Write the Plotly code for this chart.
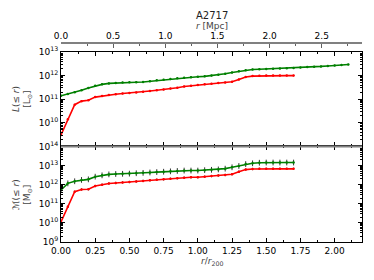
import plotly.graph_objects as go

# ---------------- data (r in units of r200, values as log10) ----------------
r_lum_green = [0.00, 0.05, 0.10, 0.15, 0.20, 0.25, 0.30, 0.35, 0.40, 0.45, 0.50,
               0.55, 0.60, 0.65, 0.70, 0.75, 0.80, 0.85, 0.90, 0.95, 1.00, 1.05,
               1.10, 1.15, 1.20, 1.25, 1.30, 1.35, 1.40, 1.45, 1.50, 1.55, 1.60,
               1.65, 1.70, 1.75, 1.80, 1.85, 1.90, 1.95, 2.00, 2.05, 2.10]
lum_green_log10 = [11.15, 11.22, 11.30, 11.38, 11.48, 11.57, 11.63, 11.67, 11.69, 11.71, 11.72,
                   11.72, 11.73, 11.76, 11.80, 11.83, 11.86, 11.89, 11.91, 11.93, 11.95, 11.97,
                   12.00, 12.04, 12.08, 12.13, 12.18, 12.23, 12.26, 12.27, 12.28, 12.29, 12.30,
                   12.31, 12.32, 12.34, 12.36, 12.37, 12.39, 12.41, 12.43, 12.45, 12.47]

r_lum_red = [0.00, 0.05, 0.10, 0.15, 0.20, 0.25, 0.30, 0.35, 0.40, 0.45, 0.50,
             0.55, 0.60, 0.65, 0.70, 0.75, 0.80, 0.85, 0.90, 0.95, 1.00, 1.05,
             1.10, 1.15, 1.20, 1.25, 1.30, 1.35, 1.40, 1.45, 1.50, 1.55, 1.60,
             1.65, 1.70]
lum_red_log10 = [9.49, 10.15, 10.77, 10.92, 10.96, 11.09, 11.14, 11.18, 11.21, 11.24, 11.26,
                 11.29, 11.32, 11.35, 11.38, 11.41, 11.45, 11.49, 11.54, 11.57, 11.60, 11.63,
                 11.66, 11.69, 11.71, 11.74, 11.84, 11.94, 11.98, 11.99, 12.00, 12.00, 12.00,
                 12.00, 12.00]

r_mass = [0.00, 0.05, 0.10, 0.15, 0.20, 0.25, 0.30, 0.35, 0.40, 0.45, 0.50,
          0.55, 0.60, 0.65, 0.70, 0.75, 0.80, 0.85, 0.90, 0.95, 1.00, 1.05,
          1.10, 1.15, 1.20, 1.25, 1.30, 1.35, 1.40, 1.45, 1.50, 1.55, 1.60,
          1.65, 1.70]
mass_green_log10 = [11.72, 12.07, 12.18, 12.25, 12.28, 12.42, 12.49, 12.54, 12.56, 12.57, 12.58,
                    12.60, 12.62, 12.64, 12.66, 12.68, 12.70, 12.72, 12.74, 12.74, 12.74, 12.76,
                    12.78, 12.80, 12.84, 12.91, 12.98, 13.08, 13.12, 13.15, 13.16, 13.16, 13.16,
                    13.16, 13.16]
mass_red_log10 = [10.05, 10.84, 11.63, 11.75, 11.76, 11.93, 12.00, 12.06, 12.09, 12.12, 12.14,
                  12.17, 12.20, 12.23, 12.26, 12.28, 12.31, 12.34, 12.37, 12.39, 12.39, 12.42,
                  12.45, 12.48, 12.51, 12.55, 12.68, 12.79, 12.82, 12.83, 12.83, 12.83, 12.83,
                  12.83, 12.83]

# error sizes in dex
err_lum_dex = 0.03
err_mass_green_dex = 0.15
err_mass_red_dex = 0.06

x_ticks_r200 = [0.00, 0.25, 0.50, 0.75, 1.00, 1.25, 1.50, 1.75, 2.00]
x_ticks_mpc = [0.0, 0.5, 1.0, 1.5, 2.0, 2.5]
y_top_exps = [10, 11, 12, 13]
y_bot_exps = [9, 10, 11, 12, 13, 14]

GREEN = "#008000"
RED = "#ff0000"


def vals(logs):
    return [10 ** v for v in logs]


def errs(logs, d):
    plus = [10 ** v * (10 ** d - 1) for v in logs]
    minus = [10 ** v * (1 - 10 ** (-d)) for v in logs]
    return plus, minus


def trace(x, logs, d, color, xa, ya):
    p, m = errs(logs, d)
    return go.Scatter(
        x=x, y=vals(logs), xaxis=xa, yaxis=ya, mode="lines+markers",
        line=dict(color=color, width=1.6),
        marker=dict(color=color, size=2.5),
        error_y=dict(type="data", symmetric=False, array=p, arrayminus=m,
                     color="black", thickness=0.8, width=0),
        showlegend=False, hoverinfo="skip",
    )


def minor_log(lo, hi):
    return [m * 10 ** e for e in range(lo, hi) for m in range(2, 10)]


fig = go.Figure()
fig.add_trace(trace(r_lum_green, lum_green_log10, err_lum_dex, GREEN, "x", "y"))
fig.add_trace(trace(r_lum_red, lum_red_log10, err_lum_dex, RED, "x", "y"))
fig.add_trace(trace(r_mass, mass_green_log10, err_mass_green_dex, GREEN, "x2", "y2"))
fig.add_trace(trace(r_mass, mass_red_log10, err_mass_red_dex, RED, "x2", "y2"))
# carrier for the top (Mpc) axis
fig.add_trace(go.Scatter(x=[None], y=[None], xaxis="x3", yaxis="y",
                         showlegend=False, hoverinfo="skip"))

FONT = "DejaVu Sans"
TOP_DOM = [0.4799, 0.9548]
BOT_DOM = [0.0, 0.4799]

common_x = dict(range=[0, 2.2], showline=True, linecolor="black", linewidth=1,
                mirror="ticks", ticks="inside", ticklen=4, tickcolor="black",
                tickvals=x_ticks_r200, showgrid=False, zeroline=False,
                automargin=False,
                minor=dict(ticks="inside", ticklen=2, dtick=0.125, tick0=0,
                           tickcolor="black", showgrid=False))
common_y = dict(type="log", showline=True, linecolor="black", linewidth=1,
                mirror="ticks", ticks="inside", ticklen=4, tickcolor="black",
                showgrid=False, zeroline=False, automargin=False,
                tickfont=dict(size=9, color="black", family=FONT))

fig.update_layout(
    width=374, height=280,
    margin=dict(l=61, r=12, t=43, b=38),
    paper_bgcolor="white", plot_bgcolor="white",
    font=dict(family=FONT, size=9, color="black"),
    xaxis=dict(**common_x, domain=[0, 1], anchor="y", showticklabels=False),
    xaxis2=dict(**common_x, domain=[0, 1], anchor="y2", showticklabels=True,
                tickformat=".2f", tickfont=dict(size=9, color="black", family=FONT)),
    xaxis3=dict(range=[0, 2.886], overlaying="x", side="top", anchor="free",
                position=1, showline=True, linecolor="#808080", linewidth=1.5,
                ticks="inside", ticklen=4, tickcolor="#606060",
                tickvals=x_ticks_mpc, tickformat=".1f", showgrid=False,
                zeroline=False, automargin=False,
                minor=dict(ticks="inside", ticklen=2, dtick=0.25, tick0=0,
                           tickcolor="#606060", showgrid=False),
                tickfont=dict(size=9, color="black", family=FONT)),
    yaxis=dict(**common_y, domain=TOP_DOM, anchor="x", range=[9, 13],
               tickvals=[10 ** e for e in y_top_exps],
               ticktext=[f"10<sup>{e}</sup>" for e in y_top_exps],
               minor=dict(ticks="inside", ticklen=2, tickcolor="black",
                          tickvals=minor_log(9, 13), showgrid=False)),
    yaxis2=dict(**common_y, domain=BOT_DOM, anchor="x2", range=[9, 14],
                tickvals=[10 ** e for e in y_bot_exps],
                ticktext=[f"10<sup>{e}</sup>" for e in y_bot_exps],
                minor=dict(ticks="inside", ticklen=2, tickcolor="black",
                           tickvals=minor_log(9, 14), showgrid=False)),
)

# divider between the two panels
fig.add_shape(type="line", xref="paper", yref="paper", x0=0, x1=1,
              y0=BOT_DOM[1], y1=BOT_DOM[1], line=dict(color="#808080", width=2))

ann = dict(xref="paper", yref="paper", showarrow=False, xanchor="center",
           yanchor="middle")
fig.add_annotation(text="A2717", x=0.5, y=1.136,
                   font=dict(size=10, color="#222", family=FONT), **ann)
fig.add_annotation(text="<i>r</i> [Mpc]", x=0.5, y=1.085,
                   font=dict(size=9, color="#444", family=FONT), **ann)
fig.add_annotation(text="<i>r</i>/<i>r</i><sub>200</sub>", x=0.5, y=-0.1,
                   font=dict(size=9, color="#444", family=FONT), **ann)
fig.add_annotation(text="<i>L</i>(≤ <i>r</i>)<br>[L<sub>⊙</sub>]",
                   x=-0.13, y=(TOP_DOM[0] + TOP_DOM[1]) / 2, textangle=-90,
                   font=dict(size=9, color="#444", family=FONT), **ann)
fig.add_annotation(text="<i>ℳ</i>(≤ <i>r</i>)<br>[M<sub>⊙</sub>]",
                   x=-0.13, y=(BOT_DOM[0] + BOT_DOM[1]) / 2, textangle=-90,
                   font=dict(size=9, color="#444", family=FONT), **ann)

fig.write_html("out.html", config={"displayModeBar": False},
               post_script="document.body.style.margin='0';document.body.style.padding='0';")
